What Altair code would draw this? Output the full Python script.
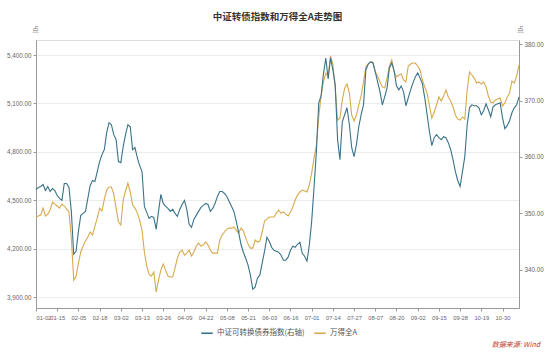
import altair as alt
import pandas as pd

TITLE = "中证转债指数和万得全A走势图"
SERIES_CB = "中证可转换债券指数(右轴)"
SERIES_A = "万得全A"

tick_labels = ["01-02", "01-15", "02-05", "02-18", "03-02", "03-13", "03-26", "04-09",
               "04-22", "05-08", "05-21", "06-03", "06-16", "07-01", "07-14", "07-27",
               "08-07", "08-20", "09-02", "09-15", "09-28", "10-19", "10-30"]

# 中证可转换债券指数 (right axis), one value per trading day
cb_index = [
    354.25, 354.60, 354.78, 355.13, 354.07, 354.78, 353.90, 354.43, 354.07, 353.19,
    352.66, 352.31, 355.31, 355.31, 354.60, 350.37, 342.79, 343.32, 346.84, 349.67,
    350.02, 350.37, 352.66, 354.96, 355.84, 355.66, 357.42, 359.19, 360.42, 361.31,
    364.30, 366.07, 365.71, 363.95, 363.07, 359.19, 359.01, 361.83, 363.95, 365.71,
    365.36, 361.31, 361.66, 359.89, 358.48, 357.42, 351.25, 350.19, 349.14, 349.49,
    349.31, 347.20, 350.37, 353.37, 351.78, 351.25, 350.90, 350.37, 350.72, 350.02,
    349.49, 350.72, 351.60, 352.31, 350.72, 348.08, 347.55, 348.96, 349.67, 350.37,
    351.08, 351.43, 351.78, 351.60, 350.37, 350.90, 351.78, 353.02, 353.90, 353.90,
    353.54, 353.02, 352.13, 351.25, 350.37, 348.61, 346.67, 344.55, 343.14, 342.08,
    340.85, 339.08, 336.61, 336.97, 338.55, 339.08, 341.20, 343.32, 345.78, 345.08,
    344.02, 343.49, 343.32, 343.14, 342.61, 341.73, 341.73, 342.26, 343.49, 344.20,
    344.02, 344.55, 344.90, 342.96, 342.43, 341.55, 344.37, 348.61, 354.60, 360.95,
    369.59, 370.83, 374.71, 377.53, 373.83, 377.53, 375.41, 372.77, 363.07, 359.54,
    366.24, 367.48, 368.71, 365.71, 361.66, 360.07, 362.19, 365.36, 367.48, 369.24,
    375.41, 376.47, 376.83, 376.65, 375.06, 373.30, 371.53, 369.24, 370.65, 372.24,
    375.77, 376.65, 375.24, 372.59, 371.89, 372.59, 371.53, 369.07, 370.48, 371.89,
    373.12, 374.18, 374.89, 374.00, 372.95, 370.48, 367.48, 364.48, 362.01, 363.42,
    363.95, 363.42, 363.07, 363.60, 363.42, 362.54, 361.31, 359.54, 357.42, 355.84,
    354.78, 357.42, 360.07, 365.71, 368.71, 369.24, 369.07, 369.07, 368.71, 367.48,
    368.18, 369.42, 368.36, 367.13, 368.89, 369.24, 369.42, 369.59, 366.95, 365.01,
    365.54, 366.42, 367.83, 368.71, 369.24, 370.65,
]

# 万得全A (left axis), one value per trading day
wind_a = [
    4396, 4402, 4408, 4451, 4402, 4414, 4439, 4489, 4476, 4464,
    4451, 4476, 4464, 4445, 4427, 4265, 4005, 4030, 4110, 4179,
    4216, 4247, 4272, 4303, 4284, 4340, 4389, 4451, 4433, 4507,
    4563, 4582, 4582, 4538, 4451, 4365, 4346, 4501, 4557, 4606,
    4551, 4470, 4451, 4420, 4377, 4315, 4179, 4092, 4042, 4030,
    4055, 3931, 4005, 4067, 4104, 4067, 4030, 4024, 4024, 4079,
    4141, 4179, 4191, 4160, 4172, 4191, 4154, 4179, 4216, 4234,
    4216, 4222, 4241, 4222, 4191, 4172, 4172, 4172, 4253, 4284,
    4303, 4321, 4327, 4327, 4334, 4315, 4296, 4327, 4309, 4265,
    4228, 4203, 4203, 4253, 4241, 4247, 4303, 4371, 4383, 4396,
    4396, 4396, 4420, 4439, 4420, 4427, 4414, 4402, 4427, 4458,
    4501, 4532, 4551, 4563, 4557, 4551, 4594, 4668, 4761, 4842,
    5016, 5146, 5233, 5288, 5270, 5394, 5344, 5195, 4997, 5009,
    5121, 5195, 5220, 5164, 5028, 4991, 5028, 5090, 5146, 5233,
    5326, 5344, 5357, 5357, 5295, 5270, 5233, 5202, 5195, 5257,
    5332, 5369, 5295, 5264, 5276, 5282, 5245, 5233, 5332, 5344,
    5350, 5350, 5332, 5307, 5245, 5202, 5164, 5084, 5009, 5047,
    5090, 5140, 5115, 5146, 5183, 5140, 5115, 5078, 5028, 5003,
    4997, 5016, 5003, 5183, 5295, 5276, 5257, 5226, 5233, 5220,
    5233, 5202, 5146, 5109, 5103, 5121, 5127, 5133, 5084, 5103,
    5140, 5164, 5239, 5226, 5270, 5338,
]

LABEL_STEP = 9
n_days = max(len(cb_index), len(wind_a))

df_cb = pd.DataFrame({"day": range(len(cb_index)), "value": cb_index, "series": SERIES_CB})
df_a = pd.DataFrame({"day": range(len(wind_a)), "value": wind_a, "series": SERIES_A})

FONT = "Noto Sans CJK SC"
NUM_FONT = "Liberation Sans"
label_expr = "[" + ",".join("'%s'" % t for t in tick_labels) + "][round(datum.value/%d)]" % LABEL_STEP

x_enc = alt.X(
    "day:Q",
    scale=alt.Scale(domain=[0, n_days - 1], nice=False, zero=False),
    axis=alt.Axis(
        values=[i * LABEL_STEP for i in range(len(tick_labels))],
        labelExpr=label_expr, labelOverlap=False, labelBound=False,
        title=None, grid=False, domainColor="#9a9a9a", tickColor="#9a9a9a",
        tickSize=3, labelFontSize=5.8, labelColor="#666666", labelPadding=3,
        labelFont=NUM_FONT,
    ),
)

color_scale = alt.Scale(domain=[SERIES_CB, SERIES_A], range=["#3a7289", "#d8a94f"])
color_enc = alt.Color(
    "series:N", scale=color_scale, sort=[SERIES_CB, SERIES_A],
    legend=alt.Legend(
        title=None, orient="none", direction="horizontal", legendX=164, legendY=286,
        symbolType="stroke", symbolSize=130, symbolStrokeWidth=1.6,
        labelFontSize=7.5, labelColor="#555555", labelFont=FONT, columnPadding=6,
        symbolOffset=0, labelOffset=3,
    ),
)

left = alt.Chart(df_a).mark_line(strokeWidth=1.1).encode(
    x=x_enc,
    y=alt.Y(
        "value:Q",
        scale=alt.Scale(domain=[3832, 5493], nice=False, zero=False),
        axis=alt.Axis(
            orient="left", values=[3900, 4200, 4500, 4800, 5100, 5400], format=",.2f",
            title="点", titleAngle=0, titleX=-1, titleY=-8, titleAlign="center",
            titleFontSize=6.5, titleFontWeight="normal", titleColor="#777777", titleFont=FONT,
            grid=True, gridColor="#ececec", domainColor="#9a9a9a", tickColor="#9a9a9a",
            tickSize=3, labelFontSize=6.3, labelColor="#666666", labelPadding=2,
            labelFont=NUM_FONT,
        ),
    ),
    color=color_enc,
)

right = alt.Chart(df_cb).mark_line(strokeWidth=1.1).encode(
    x=x_enc,
    y=alt.Y(
        "value:Q",
        scale=alt.Scale(domain=[333.27, 380.71], nice=False, zero=False),
        axis=alt.Axis(
            orient="right", values=[340, 350, 360, 370, 380], format=".2f",
            title="点", titleAngle=0, titleX=1, titleY=-8, titleAlign="center",
            titleFontSize=6.5, titleFontWeight="normal", titleColor="#777777", titleFont=FONT,
            grid=False, domainColor="#9a9a9a", tickColor="#9a9a9a",
            tickSize=3, labelFontSize=6.3, labelColor="#666666", labelPadding=2,
            labelFont=NUM_FONT,
        ),
    ),
    color=color_enc,
)

source = alt.Chart(pd.DataFrame({"t": ["数据来源: Wind"]})).mark_text(
    align="right", baseline="middle", fontSize=7, fontStyle="italic",
    color="#c0392b", font=FONT,
).encode(text="t:N", x=alt.value(504), y=alt.value(305))

chart = (
    alt.layer(left, right, source)
    .resolve_scale(y="independent")
    .properties(
        width=483, height=268,
        autosize=alt.AutoSizeParams(type="none"),
        padding={"left": 36, "top": 40, "right": 31, "bottom": 46},
        title=alt.Title(TITLE, anchor="middle", fontSize=9.5, fontWeight="bold",
                        color="#333333", font=FONT, frame="group", offset=5),
    )
    .configure_view(stroke="#e6e6e6", strokeWidth=1)
    .configure(background="white")
)

chart.save("out.html", embed_options={"renderer": "svg", "actions": False})
